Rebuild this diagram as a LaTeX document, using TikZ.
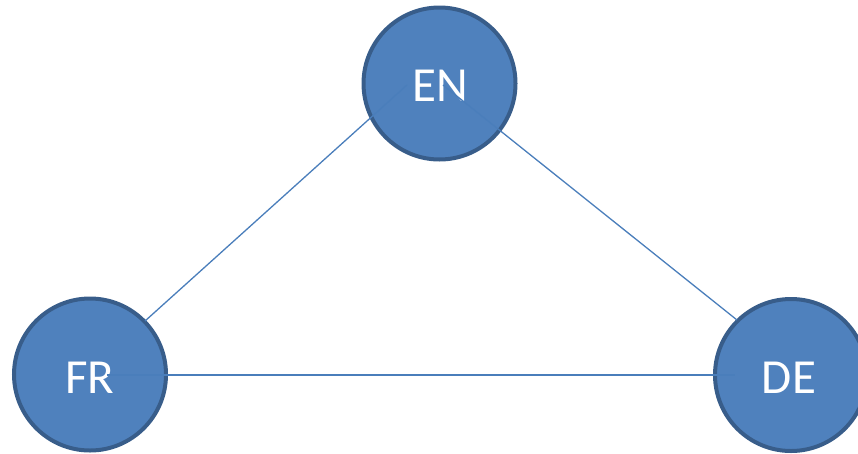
\documentclass[tikz,border=0pt]{standalone}
\usepackage{fontspec}
\setmainfont{Carlito}
\definecolor{nodefill}{HTML}{4F81BD}
\definecolor{nodeborder}{HTML}{385D8A}
\definecolor{linkcol}{HTML}{4A7EBB}
\begin{document}
\begin{tikzpicture}[x=1pt,y=-1pt,
  langnode/.style={circle,draw=nodeborder,fill=nodefill,line width=4pt,minimum size=152pt,inner sep=0pt},
  langtext/.style={text=white,font=\fontsize{49}{49}\selectfont,inner sep=0pt},
  link/.style={draw=linkcol,line width=1.3pt}]
\useasboundingbox (0,0) rectangle (858,453);
\node[langnode] (en) at (439.5,83.5) {};
\node[langnode] (fr) at (90,374.5) {};
\node[langnode] (de) at (791,375) {};
\node[langtext] (ent) at (440,86) {EN};
\node[langtext] (frt) at (90,378) {FR};
\node[langtext] (det) at (789,378) {DE};
\coordinate (enA) at (407,85);
\coordinate (enB) at (443,85);
\coordinate (frA) at (145,321);
\coordinate (frB) at (107,375);
\coordinate (deA) at (737,320);
\coordinate (deB) at (735,375);
\draw[link] (enA) -- (frA);
\draw[link] (enB) -- (deA);
\draw[link] (frB) -- (deB);
\end{tikzpicture}
\end{document}
